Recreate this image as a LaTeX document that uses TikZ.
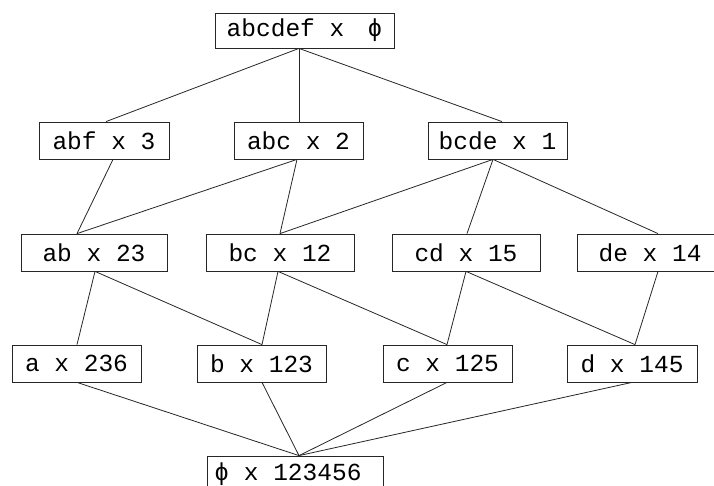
\documentclass[tikz,border=0pt]{standalone}
\usepackage{fontspec}
\setmonofont{Liberation Mono}
\tikzset{
  box/.style={draw=black!85, line width=0.8pt, rectangle, inner sep=0pt,
              minimum height=37pt, font=\ttfamily\fontsize{24.5}{26}\selectfont},
  link/.style={draw=black!85, line width=0.8pt}
}
\begin{document}
\begin{tikzpicture}[x=1pt,y=-1pt]
\useasboundingbox (0,0) rectangle (714,486);
\clip (0,0) rectangle (714,486);
% layer 0
\node[box, minimum width=179pt, minimum height=35pt] (top) at (304.5,30.5) {abcdef x\hspace{0.95em}ϕ};
% layer 1
\node[box, minimum width=130pt] (abf)  at (104,140.5)   {abf x 3};
\node[box, minimum width=129pt] (abc)  at (298.5,140.5) {abc x 2};
\node[box, minimum width=139pt] (bcde) at (497.5,140.5) {bcde x 1};
% layer 2
\node[box, minimum width=146pt] (ab) at (94,252.5)  {ab x 23};
\node[box, minimum width=148pt] (bc) at (280,252.5) {bc x 12};
\node[box, minimum width=148pt] (cd) at (466,252.5) {cd x 15};
\node[box, minimum width=146pt] (de) at (650,252.5) {de x 14};
% layer 3
\node[box, minimum width=129pt] (a) at (76.5,363.5)  {a x 236};
\node[box, minimum width=129pt] (b) at (261.5,363.5) {b x 123};
\node[box, minimum width=129pt] (c) at (447.5,363.5) {c x 125};
\node[box, minimum width=130pt] (d) at (632,363.5)   {d x 145};
% layer 4
\node[box, minimum width=176pt, minimum height=36pt] (bot) at (295,474) {ϕ x 123456\kern14pt};
% links layer 0-1
\draw[link] ([xshift=-5.5pt]top.south) -- ([xshift=2pt]abf.north);
\draw[link] ([xshift=-5.5pt]top.south) -- ([xshift=0.5pt]abc.north);
\draw[link] ([xshift=-5.5pt]top.south) -- ([xshift=4.5pt]bcde.north);
% links layer 1-2
\draw[link] ([xshift=9pt]abf.south) -- ([xshift=-17pt]ab.north);
\draw[link] ([xshift=-1.5pt]abc.south) -- ([xshift=-17pt]ab.north);
\draw[link] ([xshift=-1.5pt]abc.south) -- (bc.north);
\draw[link] ([xshift=-4.5pt]bcde.south) -- (bc.north);
\draw[link] ([xshift=-4.5pt]bcde.south) -- ([xshift=1pt]cd.north);
\draw[link] ([xshift=-4.5pt]bcde.south) -- ([xshift=8pt]de.north);
% links layer 2-3
\draw[link] ([xshift=1pt]ab.south) -- ([xshift=0.5pt]a.north);
\draw[link] ([xshift=1pt]ab.south) -- ([xshift=0.5pt]b.north);
\draw[link] ([xshift=-2pt]bc.south) -- ([xshift=0.5pt]b.north);
\draw[link] ([xshift=-2pt]bc.south) -- ([xshift=-0.5pt]c.north);
\draw[link] (cd.south) -- ([xshift=-0.5pt]c.north);
\draw[link] (cd.south) -- ([xshift=3pt]d.north);
\draw[link] ([xshift=8pt]de.south) -- ([xshift=3pt]d.north);
% links layer 3-4
\draw[link] ([xshift=0.5pt]a.south) -- ([xshift=4pt]bot.north);
\draw[link] ([xshift=0.5pt]b.south) -- ([xshift=4pt]bot.north);
\draw[link] ([xshift=-0.5pt]c.south) -- ([xshift=4pt]bot.north);
\draw[link] (d.south) -- ([xshift=4pt]bot.north);
\end{tikzpicture}
\end{document}
